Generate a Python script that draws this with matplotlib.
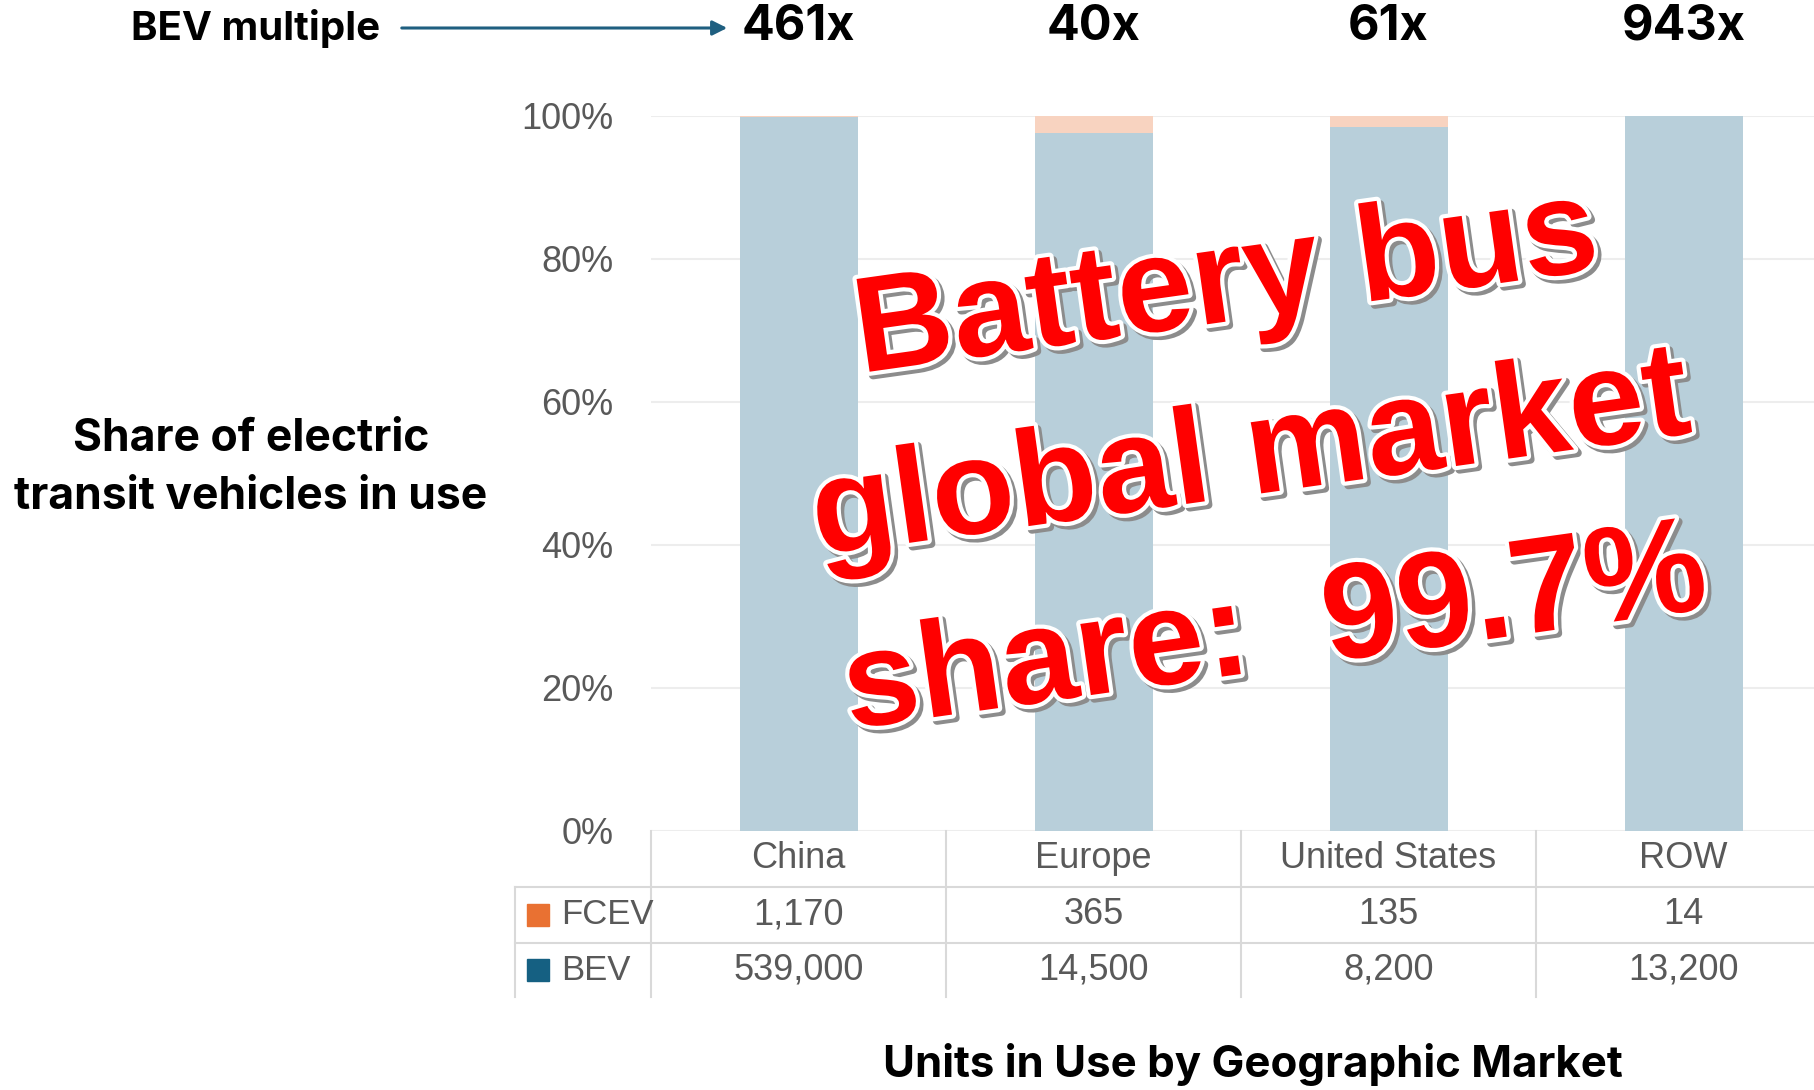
import matplotlib
matplotlib.use("Agg")
import matplotlib.pyplot as plt
import matplotlib.patheffects as pe
from matplotlib.patches import Rectangle, FancyArrowPatch
from matplotlib.lines import Line2D
from matplotlib.transforms import blended_transform_factory
from matplotlib import font_manager
import numpy as np

# ---------------- data ----------------
markets = ["China", "Europe", "United States", "ROW"]
fcev_units = [1170, 365, 135, 14]
bev_units = [539000, 14500, 8200, 13200]
series_names = ["FCEV", "BEV"]
ytick_values = [0, 20, 40, 60, 80, 100]
headline = "Battery bus\nglobal market\nshare:  99.7%"
multiple_label = "BEV multiple"
ylabel_text = "Share of electric\ntransit vehicles in use"
xlabel_text = "Units in Use by Geographic Market"

# ---------------- style ----------------
W, H = 1814, 1090
available = {f.name for f in font_manager.fontManager.ttflist}
def pick(cands):
    for c in cands:
        if c in available:
            return c
    return "DejaVu Sans"
BOLD_FONT = pick(["Inter", "Open Sans", "Lato", "Noto Sans", "DejaVu Sans"])
REG_FONT = pick(["Liberation Sans", "Arial", "DejaVu Sans"])
HEAD_FONT = pick(["Liberation Sans", "DejaVu Sans"])

GRAY = "#595959"
BEV_BAR = "#B8CFDA"
FCEV_BAR = "#F8D3C0"
BEV_KEY = "#156082"
FCEV_KEY = "#E97132"
TABLE_LINE = "#D9D9D9"
GRID = "#EDEDED"

def fx(px):
    return px / W

def fy(py):
    return 1 - py / H

fig = plt.figure(figsize=(W / 100, H / 100), dpi=100)

# axes: x from 651 px to right edge, y 0% at 830.6 px, 100% at 115.7 px
cat_w = 295.0
ax_left, ax_top, ax_bot = 651, 115.7, 830.6
ax = fig.add_axes([fx(ax_left), fy(ax_bot), 1 - fx(ax_left), (ax_bot - ax_top) / H])
ax.set_xlim(-0.5, -0.5 + (W - ax_left) / cat_w)
ax.set_ylim(0, 100)

bev = np.array(bev_units, dtype=float)
fcev = np.array(fcev_units, dtype=float)
total = bev + fcev
bev_share = bev / total * 100
fcev_share = fcev / total * 100
x = np.arange(len(markets))

ax.bar(x, bev_share, width=0.4, color=BEV_BAR, zorder=2)
ax.bar(x, fcev_share, bottom=bev_share, width=0.4, color=FCEV_BAR, zorder=2)

for s in ax.spines.values():
    s.set_visible(False)
ax.set_yticks(ytick_values)
ax.set_yticklabels([f"{v}%" for v in ytick_values], fontsize=26, color=GRAY,
                   family=REG_FONT)
ax.tick_params(axis="y", length=0, pad=27)
ax.set_xticks([])
ax.yaxis.grid(True, color=GRID, lw=1.5, zorder=0)
ax.set_axisbelow(True)

# ---------------- data table ----------------
tb = blended_transform_factory(ax.transData, fig.transFigure)
row_edges = [830.6, 886.5, 943.0, 997.0]
# vertical lines between categories
for b in np.arange(-0.5, len(markets) + 0.5, 1.0):
    fig.add_artist(Line2D([b, b], [fy(row_edges[0]), fy(row_edges[-1])],
                          transform=tb, color=TABLE_LINE, lw=1.5))
# horizontal lines (rows)
for yy in row_edges[1:3]:
    fig.add_artist(Line2D([fx(515), 1], [fy(yy), fy(yy)],
                          transform=fig.transFigure, color=TABLE_LINE, lw=1.5))
fig.add_artist(Line2D([fx(515), fx(515)], [fy(row_edges[1]), fy(row_edges[-1])],
                      transform=fig.transFigure, color=TABLE_LINE, lw=1.5))

def mid(i):
    return fy((row_edges[i] + row_edges[i + 1]) / 2)

for i, m in enumerate(markets):
    fig.text(i, mid(0) + 0.0005, m, transform=tb, ha="center", va="center",
             fontsize=26, color=GRAY, family=REG_FONT)
    fig.text(i, mid(1), f"{fcev_units[i]:,}", transform=tb, ha="center",
             va="center", fontsize=26, color=GRAY, family=REG_FONT)
    fig.text(i, mid(2), f"{bev_units[i]:,}", transform=tb, ha="center",
             va="center", fontsize=26, color=GRAY, family=REG_FONT)

for r, (name, col) in enumerate(zip(series_names, [FCEV_KEY, BEV_KEY])):
    yc = (row_edges[r + 1] + row_edges[r + 2]) / 2
    fig.add_artist(Rectangle((fx(527), fy(yc + 11)), fx(22), 22 / H,
                             transform=fig.transFigure, color=col))
    fig.text(fx(561), fy(yc), name, ha="left", va="center", fontsize=25,
             color=GRAY, family=REG_FONT)

# ---------------- multiples header ----------------
fig.text(fx(131), fy(28), multiple_label, ha="left", va="center",
         fontsize=29, fontweight="bold", family=BOLD_FONT, color="black")
fig.add_artist(FancyArrowPatch((fx(399), fy(28)), (fx(730), fy(28)),
                               transform=fig.transFigure, arrowstyle="-|>",
                               mutation_scale=22, color="#1F5F80", lw=2.2))
for i in range(len(markets)):
    mult = round(bev_units[i] / fcev_units[i])
    fig.text(i, fy(27), f"{mult}x", transform=tb, ha="center", va="center",
             fontsize=35, fontweight="bold", family=BOLD_FONT, color="black")

# ---------------- axis titles ----------------
fig.text(fx(251), fy(468), ylabel_text, ha="center", va="center",
         multialignment="center", fontsize=32, fontweight="bold",
         family=BOLD_FONT, color="black", linespacing=1.5)
fig.text(fx(1253), fy(1064), xlabel_text, ha="center", va="center",
         fontsize=31.5, fontweight="bold", family=BOLD_FONT, color="black")

# ---------------- headline overlay ----------------
fig.text(fx(1251), fy(460), headline, ha="center", va="center",
         multialignment="center", rotation=8, rotation_mode="anchor",
         fontsize=98, fontweight="bold", family=HEAD_FONT, color="#FF0000",
         linespacing=1.5, zorder=10,
         path_effects=[pe.Stroke(linewidth=6, foreground="#8C8C8C", offset=(2.5, -2.5)),
                       pe.Stroke(linewidth=6, foreground="white"),
                       pe.Normal()])

fig.savefig("out.png", dpi=100)
